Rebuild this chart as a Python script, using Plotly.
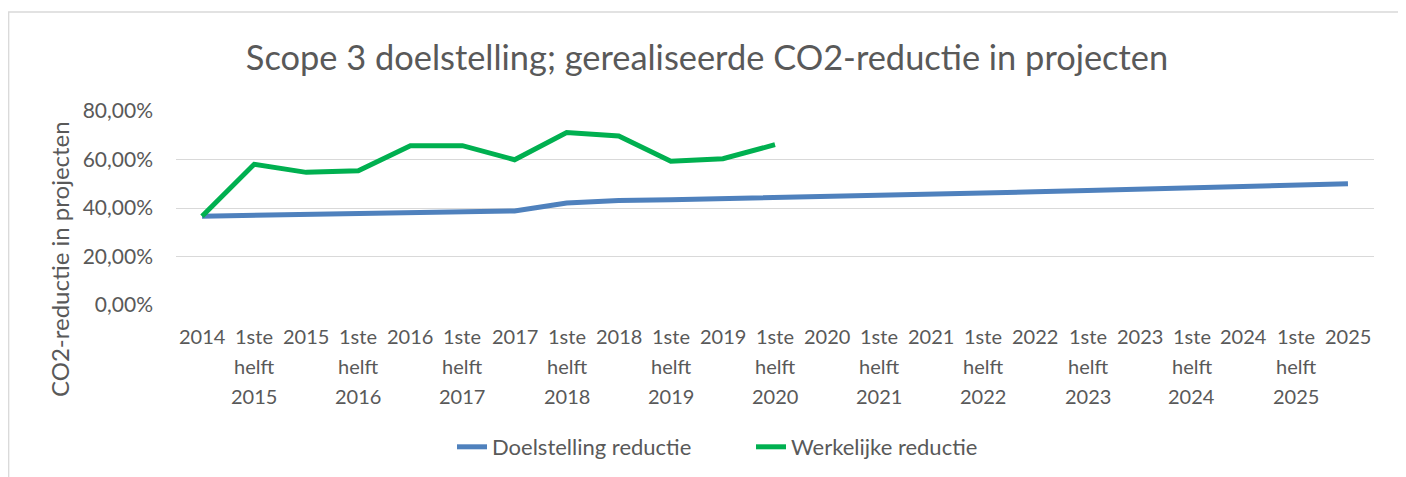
import plotly.graph_objects as go

years = list(range(2014, 2026))
categories = []
for y in years:
    categories.append(str(y))
    if y < 2025:
        categories.append(f"1ste helft {y+1}")

doelstelling = [0.366, 0.369, 0.372, 0.374, 0.377, 0.381, 0.388, 0.421, 0.431, 0.434,
                0.438, 0.442, 0.447, 0.452, 0.457, 0.462, 0.467, 0.472, 0.477, 0.482,
                0.487, 0.492, 0.500]
werkelijk = [0.366, 0.580, 0.547, 0.554, 0.657, 0.657, 0.599, 0.711, 0.697, 0.593,
             0.603, 0.661]

FONT = "Lato"
GRAY = "#595959"

fig = go.Figure()
fig.add_trace(go.Scatter(x=categories, y=doelstelling, mode="lines",
                         name="Doelstelling reductie",
                         line=dict(color="#4F81BD", width=5)))
fig.add_trace(go.Scatter(x=categories[:len(werkelijk)], y=werkelijk, mode="lines",
                         name="Werkelijke reductie",
                         line=dict(color="#00B050", width=5)))

# page has an 8px body margin; figure coordinates are screen coords minus 8
W, H = 1398, 469
L, R, T, B = 168, 32, 103, 172
pw, ph = W - L - R, H - T - B

fig.update_layout(
    width=W, height=H,
    margin=dict(l=L, r=R, t=T, b=B),
    paper_bgcolor="white", plot_bgcolor="white",
    separators=",.",
    font=dict(family=FONT, color=GRAY, size=20),
    title=dict(text="Scope 3 doelstelling; gerealiseerde CO2-reductie in projecten",
               x=699 / W, xref="container", xanchor="center",
               y=1 - 50 / H, yref="container", yanchor="middle",
               font=dict(size=34.4, color=GRAY, family=FONT)),
    showlegend=True,
    legend=dict(orientation="h", x=444 / W, xref="container", xanchor="left",
                y=1 - 439 / H, yref="container", yanchor="middle",
                font=dict(size=22, color=GRAY), entrywidth=254,
                entrywidthmode="pixels"),
    xaxis=dict(type="category", range=[-0.5, len(categories) - 0.5],
               showticklabels=False, showgrid=False, zeroline=False,
               showline=False, ticks=""),
    yaxis=dict(range=[0, 0.8], dtick=0.2, tickformat=".2%", showgrid=True,
               gridcolor="#D9D9D9", gridwidth=1.3, zeroline=False, showline=False,
               ticks="", ticklabelstandoff=22, tickfont=dict(size=21, color=GRAY)),
)

# category labels (multi-line, Excel-like line spacing)
line_offsets = [31, 61, 91]
for i, cat in enumerate(categories):
    for k, word in enumerate(cat.split(" ")):
        fig.add_annotation(text=word, x=i, xref="x", y=0, yref="paper",
                           yshift=-line_offsets[k], xanchor="center",
                           yanchor="middle", showarrow=False,
                           font=dict(size=20, color=GRAY, family=FONT))

fig.add_annotation(text="CO2-reductie in projecten", textangle=-90,
                   xref="paper", yref="paper",
                   x=(51 - L) / pw, y=(H - B - 251) / ph,
                   xanchor="center", yanchor="middle", showarrow=False,
                   font=dict(size=24, color=GRAY, family=FONT))
# chart border
fig.add_shape(type="rect", xref="paper", yref="paper",
              x0=(0.7 - L) / pw, x1=(1392 - L) / pw,
              y0=(H - B - 490) / ph, y1=(H - B - 4) / ph,
              line=dict(color="#D9D9D9", width=1.3), fillcolor="rgba(0,0,0,0)",
              layer="below")

fig.write_html("out.html")
